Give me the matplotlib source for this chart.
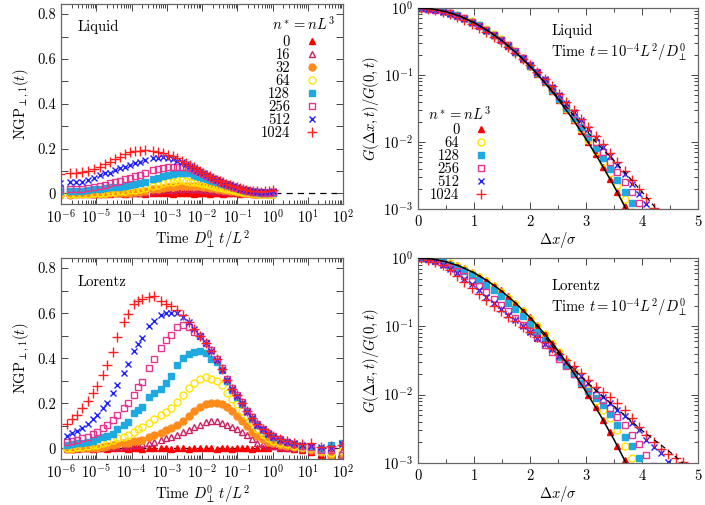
import numpy as np
import matplotlib
matplotlib.use("Agg")
import matplotlib.pyplot as plt
from matplotlib.ticker import MultipleLocator, LogLocator, NullFormatter, FixedLocator

plt.rcParams["font.family"] = "serif"
plt.rcParams["font.serif"] = ["cmr10"]
plt.rcParams["mathtext.fontset"] = "cm"
plt.rcParams["axes.formatter.use_mathtext"] = True
plt.rcParams["font.size"] = 10.5

# --- Data: NGP vs time (exponents of time) ---
liq_logt = [-6.03, -5.74, -5.58, -5.41, -5.22, -5.05, -4.89, -4.75, -4.61, -4.47, -4.33, -4.18,
            -4.04, -3.90, -3.76, -3.62, -3.38, -3.24, -3.10, -2.96, -2.83, -2.70, -2.58, -2.46,
            -2.34, -2.24, -2.15, -2.05, -1.96, -1.86, -1.77, -1.68, -1.58, -1.49, -1.40, -1.31,
            -1.21, -1.12, -1.02, -0.92, -0.83, -0.74, -0.64, -0.55, -0.45, -0.33, -0.21, -0.10, 0.02]

liq_ngp = {
    0: [0.002, -0.001, 0.001, 0.000, 0.002, -0.002, 0.001, 0.003, -0.001, 0.000, 0.002, -0.001,
        0.001, 0.002, 0.000, -0.002, 0.003, 0.001, 0.000, 0.002, -0.001, 0.001, 0.003, 0.000,
        0.001, -0.002, 0.002, 0.000, 0.001, 0.003, -0.001, 0.000, 0.002, 0.001, -0.001, 0.000,
        0.002, 0.001, 0.000, -0.002, 0.001, 0.002, 0.000, -0.001, 0.001, 0.000, 0.002, 0.004, 0.012],
    16: [-0.003, -0.003, -0.002, -0.002, -0.002, -0.001, -0.001, 0.000, 0.000, 0.001, 0.001, 0.002,
         0.002, 0.003, 0.003, 0.004, 0.010, 0.012, 0.014, 0.016, 0.017, 0.018, 0.019, 0.020,
         0.020, 0.020, 0.019, 0.018, 0.017, 0.016, 0.015, 0.013, 0.012, 0.011, 0.009, 0.008,
         0.007, 0.006, 0.005, 0.004, 0.003, 0.002, 0.001, 0.000, -0.001, -0.001, -0.002, -0.002, 0.000],
    32: [-0.005, -0.005, -0.004, -0.004, -0.003, -0.003, -0.002, -0.001, 0.000, 0.001, 0.002, 0.003,
         0.004, 0.005, 0.007, 0.009, 0.018, 0.021, 0.024, 0.027, 0.030, 0.032, 0.034, 0.035,
         0.035, 0.034, 0.033, 0.032, 0.030, 0.028, 0.026, 0.023, 0.021, 0.018, 0.016, 0.014,
         0.012, 0.010, 0.008, 0.006, 0.004, 0.002, 0.001, -0.001, -0.002, -0.003, -0.004, -0.004, -0.002],
    64: [-0.004, -0.004, -0.003, -0.002, -0.001, 0.000, 0.002, 0.004, 0.006, 0.008, 0.010, 0.012,
         0.015, 0.017, 0.020, 0.023, 0.035, 0.039, 0.046, 0.050, 0.053, 0.056, 0.058, 0.057,
         0.053, 0.051, 0.049, 0.046, 0.043, 0.040, 0.037, 0.033, 0.030, 0.027, 0.024, 0.021,
         0.018, 0.015, 0.012, 0.009, 0.007, 0.005, 0.003, 0.001, 0.000, -0.002, -0.004, -0.004, -0.003],
    128: [0.012, 0.012, 0.013, 0.013, 0.016, 0.019, 0.022, 0.024, 0.027, 0.028, 0.031, 0.034,
          0.039, 0.043, 0.046, 0.050, 0.064, 0.068, 0.076, 0.082, 0.088, 0.091, 0.093, 0.092,
          0.090, 0.084, 0.078, 0.074, 0.070, 0.065, 0.060, 0.055, 0.050, 0.045, 0.040, 0.036,
          0.032, 0.028, 0.024, 0.020, 0.016, 0.013, 0.010, 0.007, 0.005, 0.004, 0.003, 0.003, 0.004],
    256: [0.021, 0.020, 0.021, 0.022, 0.024, 0.028, 0.034, 0.038, 0.046, 0.049, 0.056, 0.064,
          0.071, 0.076, 0.083, 0.090, 0.105, 0.108, 0.113, 0.116, 0.117, 0.119, 0.120, 0.117,
          0.113, 0.106, 0.100, 0.094, 0.088, 0.080, 0.073, 0.065, 0.058, 0.052, 0.046, 0.041,
          0.036, 0.031, 0.026, 0.021, 0.017, 0.014, 0.011, 0.008, 0.006, 0.005, 0.004, 0.004, 0.005],
    512: [0.046, 0.049, 0.050, 0.053, 0.061, 0.071, 0.083, 0.090, 0.093, 0.105, 0.113, 0.120,
          0.127, 0.135, 0.142, 0.150, 0.157, 0.157, 0.161, 0.158, 0.153, 0.146, 0.139, 0.131,
          0.122, 0.113, 0.105, 0.097, 0.090, 0.082, 0.074, 0.067, 0.060, 0.054, 0.048, 0.042,
          0.037, 0.032, 0.027, 0.022, 0.018, 0.015, 0.012, 0.009, 0.008, 0.006, 0.006, 0.007, 0.010],
    1024: [0.085, 0.090, 0.093, 0.095, 0.098, 0.108, 0.120, 0.130, 0.142, 0.153, 0.164, 0.176,
           0.184, 0.190, 0.191, 0.194, 0.191, 0.186, 0.180, 0.173, 0.165, 0.156, 0.147, 0.137,
           0.127, 0.117, 0.108, 0.100, 0.093, 0.084, 0.076, 0.068, 0.061, 0.055, 0.049, 0.044,
           0.039, 0.033, 0.028, 0.023, 0.019, 0.015, 0.012, 0.010, 0.009, 0.008, 0.009, 0.010, 0.016],
}

lor_logt = [-5.84, -5.68, -5.55, -5.40, -5.24, -5.10, -4.98, -4.82, -4.70, -4.52, -4.40, -4.21,
            -4.09, -3.92, -3.81, -3.69, -3.50, -3.35, -3.16, -3.02, -2.88, -2.72, -2.55, -2.38,
            -2.22, -2.06, -1.90, -1.74, -1.58, -1.44, -1.28, -1.14, -1.00, -0.86, -0.72, -0.58,
            -0.43, -0.28, -0.12, 0.02, 0.20, 0.40, 0.62, 0.85, 1.10, 1.38, 1.65, 1.96]

lor_ngp = {
    0: [0.001, -0.002, 0.002, 0.000, 0.003, -0.001, 0.001, 0.002, -0.002, 0.001, 0.003, 0.000,
        -0.001, 0.002, 0.001, -0.002, 0.003, 0.001, 0.000, 0.002, -0.001, 0.003, 0.001, -0.002,
        0.002, 0.004, 0.000, 0.003, -0.001, 0.001, 0.002, -0.002, 0.001, 0.003, 0.000, -0.001,
        0.002, 0.004, 0.001, 0.009, 0.004, 0.000, -0.004, -0.008, -0.015, -0.030, -0.022, -0.040],
    16: [-0.002, 0.000, -0.001, 0.001, 0.001, 0.002, 0.002, 0.004, 0.005, 0.006, 0.008, 0.010,
         0.012, 0.015, 0.017, 0.020, 0.025, 0.030, 0.037, 0.044, 0.050, 0.059, 0.075, 0.083,
         0.094, 0.104, 0.115, 0.121, 0.120, 0.112, 0.104, 0.096, 0.088, 0.075, 0.058, 0.043,
         0.026, 0.018, 0.012, 0.010, 0.006, 0.004, 0.002, 0.000, -0.005, -0.010, -0.020, -0.010],
    32: [-0.003, -0.002, 0.000, 0.000, 0.002, 0.003, 0.004, 0.007, 0.010, 0.015, 0.018, 0.022,
         0.026, 0.033, 0.035, 0.038, 0.049, 0.059, 0.070, 0.080, 0.092, 0.105, 0.120, 0.145,
         0.165, 0.185, 0.195, 0.200, 0.200, 0.195, 0.182, 0.165, 0.145, 0.122, 0.098, 0.075,
         0.055, 0.040, 0.030, 0.022, 0.016, 0.010, 0.006, 0.003, -0.005, -0.015, -0.035, -0.045],
    64: [0.000, 0.003, 0.005, 0.007, 0.010, 0.013, 0.017, 0.022, 0.029, 0.037, 0.044, 0.052,
         0.059, 0.074, 0.084, 0.093, 0.114, 0.129, 0.150, 0.160, 0.180, 0.205, 0.237, 0.266,
         0.290, 0.306, 0.316, 0.310, 0.298, 0.280, 0.245, 0.220, 0.195, 0.168, 0.145, 0.118,
         0.088, 0.062, 0.045, 0.034, 0.025, 0.018, 0.012, 0.008, 0.002, -0.010, -0.020, -0.010],
    128: [0.015, 0.018, 0.022, 0.026, 0.030, 0.032, 0.040, 0.049, 0.055, 0.066, 0.084, 0.104,
          0.118, 0.155, 0.170, 0.185, 0.226, 0.245, 0.265, 0.290, 0.320, 0.368, 0.400, 0.420,
          0.430, 0.432, 0.425, 0.398, 0.385, 0.348, 0.300, 0.260, 0.230, 0.198, 0.165, 0.130,
          0.104, 0.082, 0.064, 0.050, 0.036, 0.028, 0.018, 0.012, 0.005, -0.002, 0.015, 0.022],
    256: [0.029, 0.032, 0.037, 0.045, 0.052, 0.066, 0.074, 0.089, 0.104, 0.126, 0.148, 0.178,
          0.200, 0.237, 0.274, 0.296, 0.356, 0.397, 0.444, 0.480, 0.505, 0.538, 0.546, 0.540,
          0.515, 0.500, 0.468, 0.436, 0.396, 0.355, 0.310, 0.268, 0.238, 0.205, 0.168, 0.138,
          0.110, 0.088, 0.070, 0.055, 0.040, 0.030, 0.020, 0.012, 0.008, -0.005, -0.008, -0.030],
    512: [0.055, 0.069, 0.078, 0.092, 0.108, 0.129, 0.148, 0.178, 0.200, 0.246, 0.280, 0.333,
          0.375, 0.432, 0.463, 0.492, 0.544, 0.565, 0.592, 0.600, 0.603, 0.600, 0.585, 0.560,
          0.528, 0.498, 0.466, 0.432, 0.392, 0.350, 0.303, 0.262, 0.232, 0.200, 0.163, 0.133,
          0.106, 0.085, 0.066, 0.052, 0.038, 0.030, 0.022, 0.015, 0.012, 0.005, 0.002, 0.018],
    1024: [0.107, 0.129, 0.150, 0.178, 0.209, 0.247, 0.277, 0.326, 0.369, 0.430, 0.496, 0.560,
           0.596, 0.640, 0.652, 0.664, 0.671, 0.676, 0.655, 0.642, 0.632, 0.615, 0.590, 0.563,
           0.530, 0.500, 0.467, 0.434, 0.395, 0.352, 0.305, 0.265, 0.235, 0.203, 0.165, 0.135,
           0.108, 0.087, 0.068, 0.055, 0.040, 0.032, 0.024, 0.018, 0.025, 0.008, 0.010, 0.015],
}

# --- Data: G(dx,t)/G(0,t) at t = 1e-4 ---
dx = [0.05, 0.18, 0.31, 0.44, 0.57, 0.70, 0.83, 0.96, 1.09, 1.22, 1.35, 1.48, 1.61, 1.74,
      1.87, 2.00, 2.13, 2.26, 2.39, 2.52, 2.65, 2.78, 2.91, 3.04, 3.17, 3.30, 3.43, 3.56,
      3.69, 3.82, 3.95, 4.08, 4.21, 4.34, 4.47, 4.60, 4.73]

gauss_ref = [0.999, 0.984, 0.953, 0.908, 0.850, 0.783, 0.709, 0.631, 0.552, 0.475, 0.402, 0.335,
             0.274, 0.220, 0.174, 0.135, 0.1035, 0.0778, 0.0575, 0.0418, 0.0299, 0.0210, 0.0145,
             0.0099, 0.0066, 0.0043, 0.0028, 0.00177, 0.00110]

liq_G = {
    0: gauss_ref,
    64: [1.0, 0.985, 0.955, 0.91, 0.855, 0.79, 0.715, 0.64, 0.56, 0.482, 0.41, 0.34, 0.28, 0.225,
         0.178, 0.138, 0.106, 0.080, 0.0595, 0.0435, 0.0312, 0.0222, 0.0155, 0.0108, 0.0074,
         0.0050, 0.0034, 0.0023, 0.0014, 0.0009],
    128: [0.998, 0.982, 0.95, 0.905, 0.848, 0.78, 0.705, 0.628, 0.55, 0.474, 0.402, 0.336, 0.276,
          0.223, 0.177, 0.138, 0.106, 0.080, 0.060, 0.0443, 0.0322, 0.0232, 0.0165, 0.0117,
          0.0082, 0.0057, 0.0040, 0.0027, 0.0018, 0.00125, 0.0008],
    256: [0.997, 0.978, 0.945, 0.898, 0.84, 0.772, 0.698, 0.622, 0.545, 0.47, 0.40, 0.335, 0.277,
          0.225, 0.18, 0.142, 0.110, 0.084, 0.064, 0.048, 0.0355, 0.026, 0.019, 0.0138, 0.0099,
          0.0071, 0.0050, 0.0036, 0.0025, 0.0018, 0.00125, 0.0009],
    512: [0.995, 0.972, 0.935, 0.885, 0.825, 0.755, 0.68, 0.605, 0.53, 0.458, 0.39, 0.328, 0.272,
          0.223, 0.18, 0.143, 0.112, 0.087, 0.067, 0.051, 0.038, 0.0285, 0.0212, 0.0157, 0.0115,
          0.0085, 0.0062, 0.0045, 0.0033, 0.0024, 0.0017, 0.0012, 0.0009],
    1024: [0.99, 0.965, 0.925, 0.87, 0.805, 0.735, 0.66, 0.585, 0.51, 0.44, 0.375, 0.315, 0.262,
           0.215, 0.175, 0.14, 0.111, 0.087, 0.068, 0.052, 0.0395, 0.0298, 0.0223, 0.0167,
           0.0124, 0.0092, 0.0068, 0.0050, 0.0037, 0.0027, 0.0020, 0.00145, 0.00105, 0.00077],
}

lor_G = {
    0: gauss_ref,
    64: [1.0, 0.985, 0.948, 0.898, 0.835, 0.765, 0.69, 0.61, 0.53, 0.455, 0.385, 0.32, 0.262,
         0.21, 0.166, 0.130, 0.100, 0.076, 0.057, 0.042, 0.031, 0.0225, 0.0162, 0.0118, 0.0082,
         0.0060, 0.0045, 0.0030, 0.0018, 0.0012, 0.0008],
    128: [1.0, 0.98, 0.935, 0.875, 0.80, 0.72, 0.64, 0.555, 0.475, 0.40, 0.335, 0.275, 0.222,
          0.178, 0.140, 0.108, 0.083, 0.063, 0.048, 0.036, 0.027, 0.020, 0.0150, 0.0112, 0.0088,
          0.0070, 0.0052, 0.0036, 0.0024, 0.0018, 0.0012, 0.0008],
    256: [1.0, 0.97, 0.91, 0.83, 0.74, 0.64, 0.55, 0.46, 0.385, 0.315, 0.255, 0.205, 0.165, 0.132,
          0.105, 0.085, 0.067, 0.053, 0.042, 0.033, 0.026, 0.020, 0.0158, 0.0125, 0.0100, 0.0083,
          0.0063, 0.0047, 0.0036, 0.0026, 0.0019, 0.0013, 0.0009],
    512: [1.0, 0.96, 0.89, 0.80, 0.70, 0.60, 0.50, 0.41, 0.335, 0.27, 0.22, 0.18, 0.148, 0.122,
          0.10, 0.083, 0.068, 0.056, 0.046, 0.037, 0.030, 0.024, 0.019, 0.015, 0.0118, 0.0093,
          0.0075, 0.0060, 0.0048, 0.0038, 0.0030, 0.0022, 0.0017, 0.0014, 0.00105],
    1024: [1.0, 0.95, 0.87, 0.78, 0.66, 0.55, 0.45, 0.37, 0.30, 0.245, 0.20, 0.165, 0.138, 0.118,
           0.098, 0.083, 0.070, 0.059, 0.049, 0.040, 0.032, 0.026, 0.021, 0.0165, 0.0130, 0.0108,
           0.0091, 0.0075, 0.0059, 0.0045, 0.0034, 0.0026, 0.0020, 0.0016, 0.00135, 0.00118, 0.00102],
}

# theory curves
gauss_dx = [0.0, 0.25, 0.5, 0.75, 1.0, 1.25, 1.5, 1.75, 2.0, 2.25, 2.5, 2.75, 3.0, 3.25, 3.5, 3.75]
gauss_y = [1.0, 0.969, 0.882, 0.755, 0.607, 0.458, 0.325, 0.216, 0.135, 0.0796, 0.0439, 0.0228,
           0.0111, 0.0051, 0.0022, 0.00088]
liq_dash_dx = [2.0, 2.4, 2.8, 3.2, 3.6, 4.0, 4.26]
liq_dash_y = [0.135, 0.058, 0.024, 0.0095, 0.0043, 0.0018, 0.001]
lor_dash_dx = [2.0, 2.5, 3.0, 3.5, 4.0, 4.5, 4.73]
lor_dash_y = [0.135, 0.040, 0.0155, 0.0068, 0.0030, 0.00145, 0.001]

# --- Styles ---
styles = {
    0:    dict(marker="^", color="#ff0000", mfc="#ff0000"),
    16:   dict(marker="^", color="#cc2060", mfc="none"),
    32:   dict(marker="o", color="#ff8c1a", mfc="#ff8c1a"),
    64:   dict(marker="o", color="#ffe600", mfc="none"),
    128:  dict(marker="s", color="#1ea9e1", mfc="#1ea9e1"),
    256:  dict(marker="s", color="#e6358f", mfc="none"),
    512:  dict(marker="x", color="#1f1fff", mfc="none"),
    1024: dict(marker="+", color="#ff1f1f", mfc="none"),
}
ms = {"^": 5, "o": 5, "s": 4.6, "x": 5, "+": 6.5}
title_txt = r"$n^* = nL^3$"

W, H = 705, 505
fig = plt.figure(figsize=(W / 100, H / 100), dpi=100)


def px_axes(l, r, t, b):
    return fig.add_axes([l / W, (H - b) / H, (r - l) / W, (b - t) / H])


def style_axes(ax):
    for s in ax.spines.values():
        s.set_color("#666666")
        s.set_linewidth(0.9)
    ax.tick_params(which="both", direction="in", top=True, right=True, color="#444444",
                   width=0.7, labelsize=10.5)
    ax.tick_params(which="major", length=5)
    ax.tick_params(which="minor", length=3)


def draw_ngp(ax, logt, data, label, label_y):
    t = 10.0 ** np.array(logt)
    for n, vals in data.items():
        st = styles[n]
        ax.plot(t, vals, ls="none", marker=st["marker"], color=st["color"], mfc=st["mfc"],
                ms=ms[st["marker"]], mew=1.0, label=str(n))
    ax.axhline(0, color="black", ls=(0, (5, 4)), lw=0.9, zorder=0)
    ax.set_xscale("log")
    ax.set_xlim(1e-6, 1e2)
    ax.set_ylim(-0.047, 0.845)
    ax.xaxis.set_major_locator(LogLocator(base=10, numticks=20))
    ax.xaxis.set_minor_locator(LogLocator(base=10, subs=np.arange(2, 10), numticks=100))
    ax.xaxis.set_minor_formatter(NullFormatter())
    ax.set_yticks([0, 0.2, 0.4, 0.6, 0.8])
    ax.set_yticklabels(["0", "0.2", "0.4", "0.6", "0.8"])
    ax.yaxis.set_minor_locator(FixedLocator([0.1, 0.3, 0.5, 0.7]))
    style_axes(ax)
    ax.tick_params(axis="y", which="minor", length=5)
    ax.set_xlabel(r"Time $D_\perp^0\, t/L^2$", labelpad=1)
    ax.set_ylabel(r"NGP$_{\perp,1}(t)$", labelpad=4)
    ax.text(0.06, label_y, label, transform=ax.transAxes, fontsize=10.5)


def draw_G(ax, data, dash_dx, dash_y, label, label_y, time_y):
    for n, vals in data.items():
        st = styles[n]
        ax.plot(dx[:len(vals)], vals, ls="none", marker=st["marker"], color=st["color"],
                mfc=st["mfc"], ms=ms[st["marker"]], mew=1.0, label=str(n), clip_on=True)
    ax.plot(gauss_dx, gauss_y, color="black", lw=1.1, zorder=5)
    ax.plot(dash_dx, dash_y, color="black", lw=0.9, ls=(0, (4, 3)), zorder=5)
    ax.set_yscale("log")
    ax.set_xlim(0, 5)
    ax.set_ylim(1e-3, 1.0)
    ax.xaxis.set_major_locator(MultipleLocator(1))
    ax.xaxis.set_minor_locator(MultipleLocator(0.5))
    ax.yaxis.set_major_locator(LogLocator(base=10, numticks=10))
    ax.yaxis.set_minor_locator(LogLocator(base=10, subs=np.arange(2, 10), numticks=100))
    ax.yaxis.set_minor_formatter(NullFormatter())
    style_axes(ax)
    ax.set_xlabel(r"$\Delta x/\sigma$", labelpad=1)
    ax.set_ylabel(r"$G(\Delta x,t)/G(0,t)$", labelpad=2)
    ax.text(0.475, label_y, label, transform=ax.transAxes, fontsize=10.5)
    ax.text(0.475, time_y, r"Time $t=10^{-4}L^2/D_\perp^0$", transform=ax.transAxes, fontsize=10.5)


ax_tl = px_axes(61, 343, 4, 204)
ax_tr = px_axes(418, 698, 8, 209)
ax_bl = px_axes(61, 343, 258, 459)
ax_br = px_axes(418, 698, 258, 463)

draw_ngp(ax_tl, liq_logt, liq_ngp, "Liquid", 0.865)
draw_ngp(ax_bl, lor_logt, lor_ngp, "Lorentz", 0.86)
draw_G(ax_tr, liq_G, liq_dash_dx, liq_dash_y, "Liquid", 0.865, 0.76)
draw_G(ax_br, lor_G, lor_dash_dx, lor_dash_y, "Lorentz", 0.845, 0.74)

leg_kw = dict(frameon=False, markerfirst=False, handlelength=1.0, handletextpad=1.0,
              labelspacing=-0.05, borderpad=0, borderaxespad=0, fontsize=10.5)
ax_tl.legend(loc="upper right", bbox_to_anchor=(0.915, 0.845), **leg_kw)
ax_tl.text(0.972, 0.9, title_txt, transform=ax_tl.transAxes, ha="right", va="center")

ax_tr.legend(loc="lower left", bbox_to_anchor=(0.043, 0.035), **leg_kw)
ax_tr.text(0.036, 0.475, title_txt, transform=ax_tr.transAxes, ha="left", va="center")

fig.savefig("out.png", dpi=100)
